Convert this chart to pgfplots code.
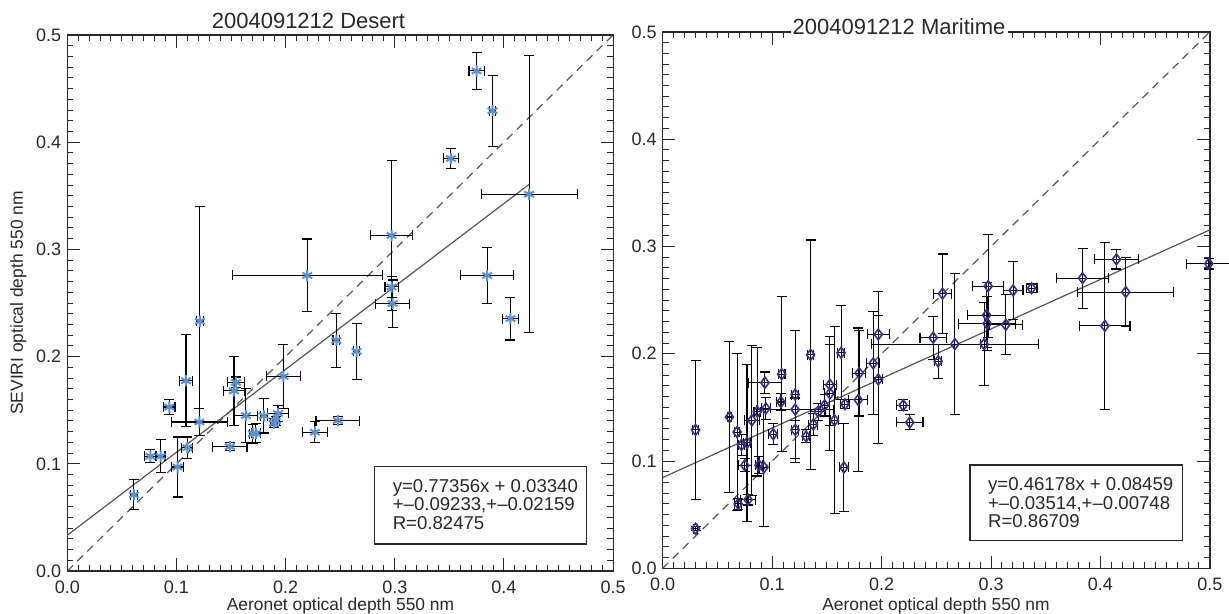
\documentclass[border=0pt]{standalone}
\usepackage{fontspec}
\setmainfont{Liberation Sans}
\usepackage{pgfplots}
\usepackage{pgfplotstable}
\pgfplotsset{compat=1.18}
\definecolor{astblue}{RGB}{90,145,210}
\definecolor{diaindigo}{RGB}{60,45,150}
\definecolor{fitgray}{RGB}{85,85,85}
\definecolor{axgray}{RGB}{40,40,40}

\pgfplotstableread{
x y ex ey
0.061 0.071 0.003 0.014
0.076 0.107 0.005 0.006
0.0855 0.107 0.004 0.0155
0.101 0.097 0.0057 0.028
0.110 0.115 0.005 0.010
0.0934 0.153 0.0053 0.0067
0.1087 0.1775 0.006 0.043
0.1215 0.233 0.003 0.107
0.121 0.139 0.0255 0.0125
0.149 0.116 0.0156 0.004
0.1545 0.176 0.0076 0.005
0.1527 0.168 0.010 0.032
0.1636 0.145 0.011 0.025
0.170 0.128 0.003 0.0086
0.1728 0.1285 0.004 0.009
0.180 0.1447 0.003 0.016
0.1893 0.138 0.003 0.004
0.191 0.140 0.003 0.004
0.193 0.147 0.0096 0.0078
0.198 0.1815 0.0156 0.030
0.2198 0.2757 0.0687 0.034
0.2268 0.1295 0.0117 0.010
0.2464 0.2152 0.003 0.0254
0.2479 0.1403 0.0201 0.004
0.265 0.2049 0.003 0.026
0.297 0.313 0.019 0.070
0.297 0.265 0.006 0.010
0.298 0.2495 0.0153 0.022
0.3514 0.3848 0.0066 0.0094
0.3749 0.4665 0.0069 0.017
0.3896 0.4294 0.003 0.033
0.4231 0.3515 0.044 0.129
0.3846 0.2757 0.0244 0.026
0.406 0.2355 0.007 0.020
}\desert

\pgfplotstableread{
x y ex ey
0.030 0.129 0.003 0.065
0.030 0.037 0.002 0.002
0.061 0.141 0.002 0.070
0.068 0.127 0.002 0.073
0.069 0.060 0.003 0.005
0.072 0.115 0.003 0.010
0.077 0.117 0.003 0.073
0.078 0.064 0.007 0.005
0.075 0.096 0.006 0.006
0.0815 0.138 0.007 0.070
0.0864 0.146 0.003 0.060
0.088 0.096 0.003 0.008
0.0925 0.094 0.005 0.055
0.0934 0.173 0.015 0.010
0.0943 0.149 0.004 0.010
0.101 0.125 0.004 0.010
0.108 0.155 0.004 0.008
0.1087 0.181 0.003 0.072
0.121 0.162 0.003 0.060
0.121 0.148 0.035 0.010
0.121 0.129 0.003 0.030
0.131 0.123 0.003 0.006
0.1351 0.199 0.003 0.107
0.1376 0.134 0.004 0.010
0.142 0.146 0.007 0.008
0.148 0.152 0.004 0.010
0.1528 0.171 0.006 0.038
0.1528 0.163 0.005 0.053
0.157 0.138 0.004 0.087
0.163 0.201 0.003 0.044
0.1665 0.153 0.004 0.004
0.1656 0.094 0.004 0.041
0.1795 0.182 0.006 0.040
0.1787 0.157 0.0087 0.067
0.1923 0.191 0.006 0.048
0.197 0.218 0.010 0.040
0.197 0.176 0.004 0.060
0.2197 0.152 0.006 0.005
0.2258 0.136 0.012 0.007
0.2471 0.215 0.012 0.020
0.2557 0.256 0.008 0.037
0.2517 0.193 0.003 0.016
0.267 0.209 0.076 0.066
0.2937 0.209 0.003 0.039
0.2974 0.263 0.014 0.048
0.2959 0.236 0.017 0.030
0.2965 0.228 0.026 0.025
0.3202 0.259 0.009 0.027
0.3135 0.227 0.015 0.028
0.337 0.261 0.005 0.004
0.3836 0.2705 0.024 0.028
0.4146 0.288 0.020 0.009
0.404 0.226 0.023 0.078
0.4231 0.2575 0.044 0.032
0.499 0.284 0.020 0.005
}\maritime

\pgfplotsset{
  panel/.style={
    scale only axis,
    xmin=0, xmax=0.5, ymin=0, ymax=0.5,
    xtick={0,0.1,0.2,0.3,0.4,0.5},
    ytick={0,0.1,0.2,0.3,0.4,0.5},
    minor x tick num=9, minor y tick num=9,
    tick align=inside,
    major tick length=6.3pt, minor tick length=3pt,
    axis line style={axgray, line width=0.6pt},
    every tick/.style={axgray, line width=0.5pt},
    tick label style={font=\fontsize{9}{10}\selectfont, text=axgray},
    xticklabel style={yshift=-1.5pt},
    yticklabel style={xshift=0.5pt},
    /pgf/number format/fixed,
    /pgf/number format/fixed zerofill,
    /pgf/number format/precision=1,
    /pgf/number format/assume math mode=true,
  },
  ebars/.style={
    only marks,
    error bars/x dir=both, error bars/x explicit,
    error bars/y dir=both, error bars/y explicit,
    error bars/error mark=|,
    error bars/error bar style={black, line width=0.55pt},
    error bars/error mark options={black, line width=0.55pt, mark size=2.5pt},
  },
}

\begin{document}
\begin{tikzpicture}
\path[use as bounding box] (0pt,0pt) rectangle (614.5pt,-307pt);

% Left panel: Desert
\begin{axis}[panel, at={(33.65pt,-285.5pt)}, anchor=south west,
  width=272.9pt, height=268pt]
  \addplot[fitgray, dashed, dash pattern=on 4pt off 3pt, line width=0.6pt] coordinates {(0,0) (0.5,0.5)};
  \addplot[fitgray, line width=0.6pt] coordinates {(0,0.0334) (0.4231,0.36069)};
  \addplot[ebars, mark=asterisk, mark size=2.8pt, mark options={astblue, line width=1pt}]
    table[x=x, y=y, x error=ex, y error=ey] {\desert};
\end{axis}

% Right panel: Maritime
\begin{axis}[panel, at={(331.35pt,-284.15pt)}, anchor=south west,
  width=273.6pt, height=268.2pt, clip=false]
  \addplot[fitgray, dashed, dash pattern=on 4pt off 3pt, line width=0.6pt] coordinates {(0,0) (0.5,0.5)};
  \addplot[fitgray, line width=0.6pt] coordinates {(0,0.08459) (0.5,0.31548)};
  \addplot[ebars, mark=diamond, mark size=2.7pt, mark options={diaindigo, line width=0.8pt, fill=none}]
    table[x=x, y=y, x error=ex, y error=ey] {\maritime};
\end{axis}

% Titles
\node[anchor=base, font=\fontsize{11}{13}\selectfont, text=axgray] at (154.25pt,-14.15pt) {2004091212 Desert};
\fill[white] (395.5pt,-6pt) rectangle (504pt,-23pt);
\node[anchor=base, font=\fontsize{11}{13}\selectfont, text=axgray] at (449.5pt,-17.2pt) {2004091212 Maritime};

% Axis labels
\node[rotate=90, font=\fontsize{8.7}{10}\selectfont, text=axgray] at (9.2pt,-151.5pt) {SEVIRI optical depth 550 nm};
\node[anchor=base, font=\fontsize{8.7}{10}\selectfont, text=axgray] at (170.25pt,-305pt) {Aeronet optical depth 550 nm};
\node[anchor=base, font=\fontsize{8.7}{10}\selectfont, text=axgray] at (468pt,-305pt) {Aeronet optical depth 550 nm};

% Fit boxes
\draw[axgray, line width=0.6pt] (187.15pt,-233.35pt) rectangle (293.35pt,-272pt);
\node[anchor=west, inner sep=0pt, align=left, font=\fontsize{9.3}{9.25}\selectfont, text=axgray] at (196.2pt,-252.2pt)
  {y=0.77356x + 0.03340\\+--0.09233,+--0.02159\\R=0.82475};
\draw[axgray, line width=0.6pt] (485pt,-232.5pt) rectangle (591.35pt,-270.35pt);
\node[anchor=west, inner sep=0pt, align=left, font=\fontsize{9.3}{9.25}\selectfont, text=axgray] at (493.85pt,-251.35pt)
  {y=0.46178x + 0.08459\\+--0.03514,+--0.00748\\R=0.86709};
\end{tikzpicture}
\end{document}
